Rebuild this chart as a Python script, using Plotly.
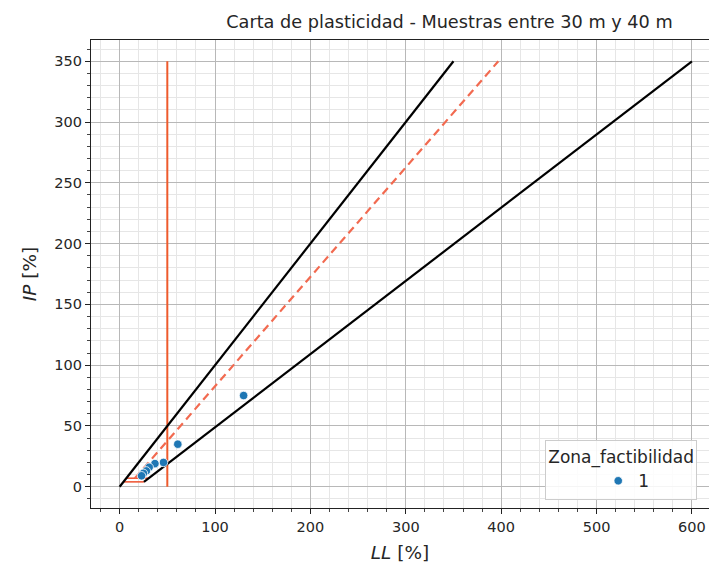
import plotly.graph_objects as go

# Muestras (límite líquido y índice de plasticidad)
ll_muestras = [130, 61, 46, 37, 31, 28, 25, 23]
ip_muestras = [75, 35, 20, 19, 16, 13, 11, 9]
zona = "1"

# Línea IP = LL (límite superior)
ll_lim = [0, 350]
ip_lim = [0, 350]

# Línea inferior (A)
ll_a = [25.5, 600]
ip_a = [4, 350]

# Línea U
ll_u = [16, 397]
ip_u = [7, 350]

# Separación LL = 50
ll_50 = [50, 50]
ip_50 = [0, 350]

# Zona CL-ML
ll_clml = [4, 25.5, None, 7, 30.5]
ip_clml = [4, 4, None, 7, 7]

FONT = "DejaVu Sans"
BLUE = "#1f77b4"
TXT = "#262626"

fig = go.Figure()

fig.add_trace(go.Scatter(x=ll_clml, y=ip_clml, mode="lines",
                         line=dict(color="#ef5b3a", width=1.6), showlegend=False))
fig.add_trace(go.Scatter(x=ll_50, y=ip_50, mode="lines",
                         line=dict(color="#ee5a2c", width=2), showlegend=False))
fig.add_trace(go.Scatter(x=ll_u, y=ip_u, mode="lines",
                         line=dict(color="#f26a50", width=2.2, dash="8px,5px"),
                         showlegend=False))
fig.add_trace(go.Scatter(x=ll_lim, y=ip_lim, mode="lines",
                         line=dict(color="black", width=2.2), showlegend=False))
fig.add_trace(go.Scatter(x=ll_a, y=ip_a, mode="lines",
                         line=dict(color="black", width=2.2), showlegend=False))
fig.add_trace(go.Scatter(x=ll_muestras, y=ip_muestras, mode="markers", name=zona,
                         marker=dict(color=BLUE, size=8.5,
                                     line=dict(color="white", width=0.8))))

axis_common = dict(
    showline=True, mirror=True, linecolor="#222222", linewidth=1.2,
    ticks="outside", ticklen=5, tickwidth=1, tickcolor="#222222",
    showgrid=True, gridcolor="#b8b8b8", gridwidth=1,
    zeroline=False,
    tickfont=dict(family=FONT, size=14.5, color=TXT),
)

fig.update_xaxes(
    range=[-30, 617.9], tick0=0, dtick=100,
    minor=dict(dtick=20, ticks="outside", ticklen=3, tickcolor="#444444",
               showgrid=True, gridcolor="#e6e6e6", gridwidth=0.8),
    title=dict(text="<i>LL</i> [%]", font=dict(family=FONT, size=18.5, color=TXT),
               standoff=12),
    **axis_common,
)
fig.update_yaxes(
    range=[-17.5, 367.5], tick0=0, dtick=50,
    minor=dict(dtick=10, ticks="outside", ticklen=3, tickcolor="#444444",
               showgrid=True, gridcolor="#e6e6e6", gridwidth=0.8),
    title=dict(text="<i>IP</i> [%]", font=dict(family=FONT, size=18.5, color=TXT),
               standoff=12),
    **axis_common,
)

fig.update_layout(
    width=709, height=571,
    margin=dict(l=91, r=0, t=40, b=63),
    paper_bgcolor="white", plot_bgcolor="white",
    title=dict(text="Carta de plasticidad - Muestras entre 30 m y 40 m",
               font=dict(family=FONT, size=17.7, color=TXT),
               x=0.58, xref="paper", xanchor="center", y=0.962, yanchor="middle"),
    legend=dict(
        title=dict(text="Zona_factibilidad", side="top",
                   font=dict(family=FONT, size=17, color=TXT)),
        font=dict(family=FONT, size=17, color=TXT),
        x=0.735, xanchor="left", y=0.145, yanchor="top",
        bgcolor="rgba(255,255,255,0.85)", bordercolor="#cccccc", borderwidth=1,
        indentation=52,
    ),
)

fig.write_html("out.html")
